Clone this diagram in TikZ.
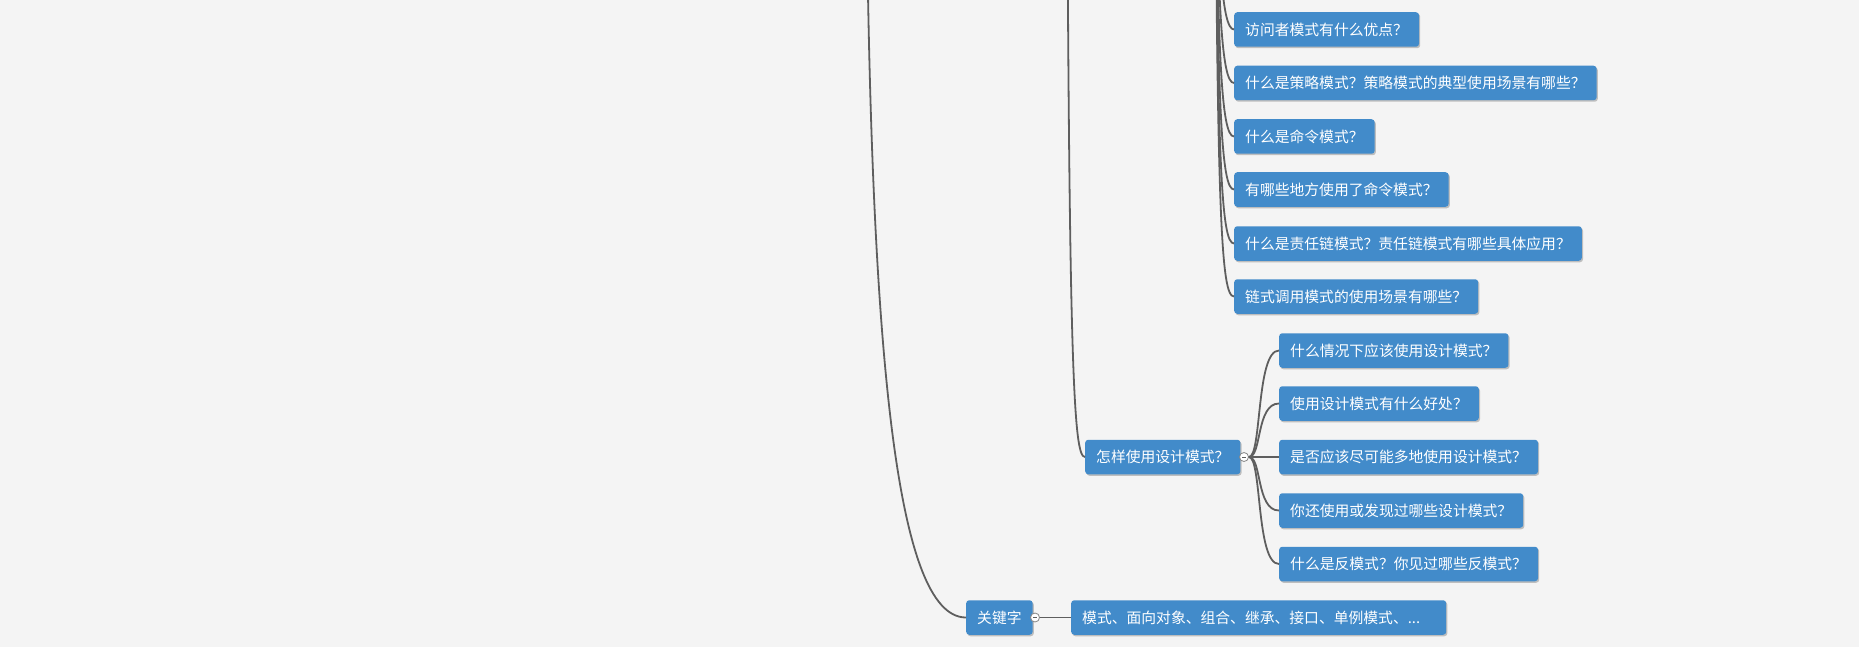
\documentclass[tikz,border=0pt]{standalone}
\usepackage{fontspec}
\newfontfamily\cjk{Noto Sans CJK SC}
\usetikzlibrary{shadows}

\begin{document}
\begin{tikzpicture}[
    x=1pt, y=-1pt,
    leaf/.style={
        fill=colNode, rounded corners=3pt, anchor=west, inner xsep=11pt, inner ysep=0pt,
        minimum height=34.5pt, text=white, font=\cjk\fontsize{14.8}{16}\selectfont,
        drop shadow={shadow xshift=1.2pt, shadow yshift=-1.5pt, fill=black, opacity=0.22}
    },
    fold/.style={
        circle, draw=colLine!75, fill=white, line width=0.8pt, minimum size=9pt, inner sep=0pt,
        path picture={\draw[colLine, line width=0.7pt]
            ([xshift=-1.8pt]path picture bounding box.center) -- ([xshift=1.8pt]path picture bounding box.center);}
    },
    link/.style={draw=colLine, line width=1.8pt}
]

% ============================
% COLOR DEFINITIONS
% ============================
\definecolor{colBg}{HTML}{F4F4F4}     % canvas
\definecolor{colNode}{HTML}{428BCA}   % topic blue
\definecolor{colLine}{HTML}{5E5E5E}   % branch grey

\useasboundingbox (0,0) rectangle (1859,647);
\fill[colBg] (0,0) rectangle (1859,647);
\clip (0,0) rectangle (1859,647);

% ============================
% UPPER GROUP (x=1234)
% ============================
\node[leaf] (qVisitor)   at (1234, 29.5) {访问者模式有什么优点？};
\node[leaf] (qStrategy)  at (1234, 83)   {什么是策略模式？策略模式的典型使用场景有哪些？};
\node[leaf] (qCommand)   at (1234, 136.5) {什么是命令模式？};
\node[leaf] (qCmdUse)    at (1234, 189.5) {有哪些地方使用了命令模式？};
\node[leaf] (qChain)     at (1234, 243.5) {什么是责任链模式？责任链模式有哪些具体应用？};
\node[leaf] (qChainCall) at (1234, 296.5) {链式调用模式的使用场景有哪些？};

% ============================
% HOW TO USE (x=1085) + children (x=1279)
% ============================
\node[leaf] (qHowUse)  at (1085, 457)   {怎样使用设计模式？};
\node[fold] (fHowUse)  at (1244, 457)   {};
\node[leaf] (qWhen)    at (1279, 350.5) {什么情况下应该使用设计模式？};
\node[leaf] (qBenefit) at (1279, 403.5) {使用设计模式有什么好处？};
\node[leaf] (qMuch)    at (1279, 457)   {是否应该尽可能多地使用设计模式？};
\node[leaf] (qOther)   at (1279, 510.5) {你还使用或发现过哪些设计模式？};
\node[leaf] (qAnti)    at (1279, 564)   {什么是反模式？你见过哪些反模式？};

% ============================
% KEYWORDS (y=617.5)
% ============================
\node[leaf] (kwRoot) at (966, 617.5)  {关键字};
\node[fold] (fKw)    at (1035, 617.5) {};
\node[leaf, text width=353pt, align=left] (kwList) at (1071, 617.5) {模式、面向对象、组合、继承、接口、单例模式、...};

% ============================
% CONNECTORS
% ============================
\coordinate (rootOut) at (866, -200);
\coordinate (catOut)  at (1067, -200);
\coordinate (patOut)  at (1215, -250);

\draw[link] (rootOut) .. controls (868, 350) and (895, 617.5) .. (kwRoot.west);
\draw[link] (catOut) .. controls (1069, 380) and (1074, 457) .. (qHowUse.west);

\foreach \n in {qVisitor, qStrategy, qCommand, qCmdUse, qChain, qChainCall}
    \draw[link] (patOut) .. controls ([xshift=2pt, yshift=80pt]patOut |- \n.west)
        and ([xshift=-13pt]\n.west) .. (\n.west);

\foreach \n in {qWhen, qBenefit, qOther, qAnti}
    \draw[link] (fHowUse.east) .. controls ([xshift=13pt]fHowUse.east)
        and ([xshift=-23pt]\n.west) .. (\n.west);
\draw[link] (fHowUse.east) -- (qMuch.west);

\draw[link] (fKw.east) -- (kwList.west);

\end{tikzpicture}
\end{document}
